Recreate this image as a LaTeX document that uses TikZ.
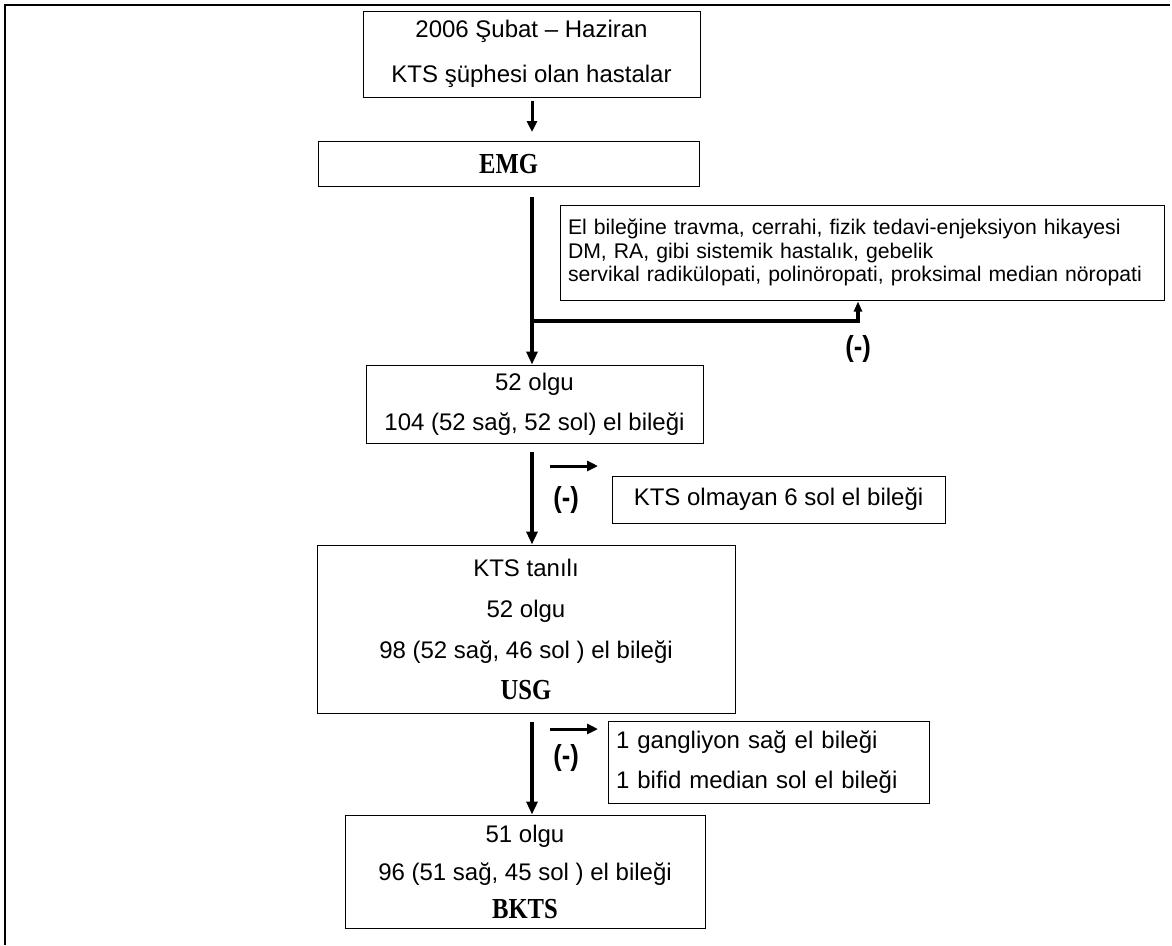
\documentclass[tikz,border=0pt]{standalone}
\usepackage{fontspec}
\setmainfont{Liberation Sans}
\newfontfamily\tnr{Liberation Serif}
\usetikzlibrary{arrows.meta}
\newcommand{\bigserif}[1]{{\fontsize{29}{29}\selectfont\tnr\bfseries\scalebox{0.85}[1]{#1}}}
\newcommand{\minustxt}{\scalebox{0.88}[1]{(-)}}
\begin{document}
\begin{tikzpicture}[x=1pt,y=-1pt,
  box/.style={draw, line width=1pt, inner sep=0pt, align=center},
  bigarr/.style={line width=3.5pt, -{Triangle[length=13pt,width=11pt]}},
  smallarr/.style={line width=3pt, -{Triangle[length=11pt,width=10pt]}},
  minus/.style={font=\fontsize{29}{29}\selectfont\bfseries}]
\useasboundingbox (0,0) rectangle (1172,945);
% frame
\draw[line width=2.5pt] (4,5) -- (1170,5);
\draw[line width=2.5pt] (5,4) -- (5,945);
% boxes
\node[box, minimum width=337pt, minimum height=86pt, font=\fontsize{24}{45}\selectfont] (a) at (531.5,54)
  {2006 Şubat – Haziran\\KTS şüphesi olan hastalar};
\node[box, minimum width=381pt, minimum height=45pt] (b) at (508.5,164) {\bigserif{EMG}};
\node[box, text width=588pt, inner xsep=8pt, minimum height=95pt, align=left,
  font=\fontsize{21.2}{23.5}\selectfont] (c) at (862,252.5)
  {El bileğine travma, cerrahi, fizik tedavi-enjeksiyon hikayesi\\DM, RA, gibi sistemik hastalık, gebelik\\servikal radikülopati, polinöropati, proksimal median nöropati};
\node[box, minimum width=337pt, minimum height=78pt, font=\fontsize{24}{40}\selectfont] (d) at (534.5,404)
  {52 olgu\\104 (52 sağ, 52 sol) el bileği};
\node[box, minimum width=333pt, minimum height=47pt, font=\fontsize{24}{30}\selectfont] (e) at (778.5,499.5)
  {KTS olmayan 6 sol el bileği};
\node[box, minimum width=418pt, minimum height=168pt, font=\fontsize{24}{41}\selectfont] (f) at (526,629)
  {KTS tanılı\\52 olgu\\98 (52 sağ, 46 sol ) el bileği\\\bigserif{USG}};
\node[box, text width=305pt, inner xsep=8pt, minimum height=82pt, align=left, font=\fontsize{24}{40.5}\selectfont] (g) at (768.5,762)
  {1 gangliyon sağ el bileği\\1 bifid median sol el bileği};
\node[box, minimum width=360pt, minimum height=113pt, font=\fontsize{24}{38}\selectfont] (h) at (525,871.5)
  {51 olgu\\96 (51 sağ, 45 sol ) el bileği\\\bigserif{BKTS}};
% labels
\node[minus] (m1) at (858,349) {\minustxt};
\node[minus] (m2) at (566,500) {\minustxt};
\node[minus] (m3) at (566,758) {\minustxt};
% spine and free ends
\coordinate (sp) at (532,0);
\coordinate (br) at (532,321);
\coordinate (cj) at (858,0);
\coordinate (s1) at (550,466);
\coordinate (s1e) at (598,466);
\coordinate (s2) at (550,729);
\coordinate (s2e) at (598,729);
% connectors
\draw[smallarr, shorten <=3pt, shorten >=9pt] (sp |- a.south) -- (sp |- b.north);
\draw[bigarr, shorten <=10pt] (sp |- b.south) -- (sp |- d.north);
\draw[line width=3.5pt, -{Triangle[length=10pt,width=8pt]}, shorten >=1pt] (br) -| (cj |- c.south);
\draw[bigarr, shorten <=8pt] (sp |- d.south) -- (sp |- f.north);
\draw[smallarr] (s1) -- (s1e);
\draw[bigarr, shorten <=8pt] (sp |- f.south) -- (sp |- h.north);
\draw[smallarr] (s2) -- (s2e);
\end{tikzpicture}
\end{document}
